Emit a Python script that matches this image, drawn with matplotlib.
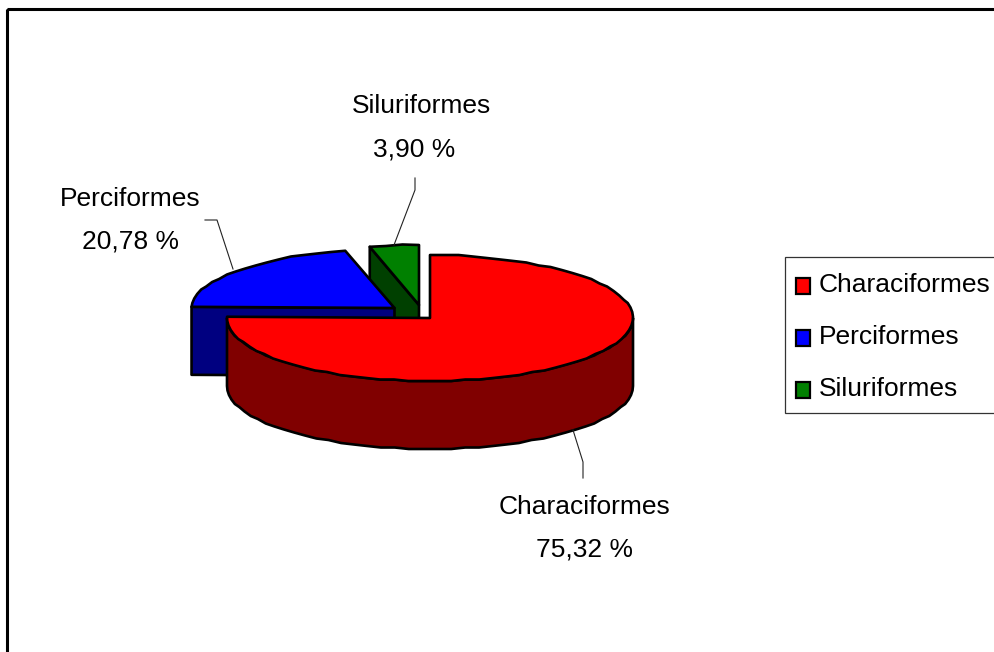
# -*- coding: utf-8 -*-
import numpy as np
import matplotlib
matplotlib.use('Agg')
import matplotlib.pyplot as plt
from matplotlib.patches import Polygon, Rectangle

plt.rcParams['font.family'] = ['Liberation Sans', 'DejaVu Sans']
font_size = 19

orders = ['Characiformes', 'Perciformes', 'Siluriformes']
percent = [75.32, 20.78, 3.90]
percent_text = ['75,32 %', '20,78 %', '3,90 %']

top_colors = ['#ff0000', '#0000ff', '#008000']
side_colors = ['#800000', '#000080', '#004000']

# exploded slice apex in pixels, pie radii and wall height
apex = [(430, 318), (394.5, 308), (419, 305)]
rx = 203
ry = [63, 59, 60]
depth = 68
lw = 1.9

fig = plt.figure(figsize=(9.94, 6.52), dpi=100)
ax = fig.add_axes([0, 0, 1, 1])
ax.set_xlim(0, 994)
ax.set_ylim(652, 0)
ax.axis('off')


def arc(i, a0, a1, step=4.0):
    # rough stepped outline like the old office renderer
    n = max(int(abs(a1 - a0) / step), 1) + 1
    t = np.radians(np.linspace(a0, a1, n))
    x = apex[i][0] + rx * np.cos(t)
    y = apex[i][1] - ry[i] * np.sin(t)
    y[1:-1] = np.round(y[1:-1] / 1.5) * 1.5
    return np.column_stack([x, y])


def add_poly(pts, color, z):
    ax.add_patch(Polygon(pts, closed=True, facecolor=color, edgecolor='black',
                         linewidth=lw, joinstyle='round', zorder=z))


# slice angles, clockwise from 12 o'clock
ends = 90 - np.cumsum(percent) * 3.6
starts = np.concatenate([[90], ends[:-1]])

# green slice, its open side is seen from the 104 deg corner to the apex
c = apex[2]
top = arc(2, starts[2], ends[2])
p_left = top[0]
wall = np.array([p_left, c, (c[0], c[1] + depth), (p_left[0], p_left[1] + depth)])
add_poly(wall, side_colors[2], 2)
add_poly(np.vstack([top, [c]]), top_colors[2], 3)

# blue slice
c = apex[1]
top = arc(1, starts[1], ends[1])
p_left = top[0]
wall = np.array([p_left, c, (c[0], c[1] + depth), (p_left[0], p_left[1] + depth)])
add_poly(wall, side_colors[1], 4)
add_poly(np.vstack([top, [c]]), top_colors[1], 5)

# red slice, wall first then lid
c = apex[0]
top = arc(0, starts[0], ends[0])
low = arc(0, -180, 0)
wall = np.vstack([low, (low + [0, depth])[::-1]])
add_poly(wall, side_colors[0], 6)
add_poly(np.vstack([top, [c]]), top_colors[0], 7)

# leader lines
leaders = [([573, 583, 583], [430, 462, 478]),
           ([205, 217, 233], [220, 220, 269]),
           ([415, 415, 394], [178, 190, 245])]
for xs, ys in leaders:
    ax.plot(xs, ys, color='#222222', linewidth=0.8, zorder=8)

# slice labels
label_pos = [(584, 507, 549), (130, 199, 242), (421, 106, 149)]
for name, txt, (lx, y1, y2), tx in zip(orders, percent_text, label_pos, [585, 130, 414]):
    ax.text(lx, y1, name, fontsize=font_size, ha='center', va='center', color='black')
    ax.text(tx, y2, txt, fontsize=font_size, ha='center', va='center', color='black')

# legend, runs off the right edge of the picture
ax.add_patch(Rectangle((785, 257), 260, 156, facecolor='white', edgecolor='#333333',
                       linewidth=0.9, zorder=9))
for i, (name, col) in enumerate(zip(orders, top_colors)):
    y = 286 + i * 52
    ax.add_patch(Rectangle((796, y - 8), 14, 16, facecolor=col, edgecolor='black',
                           linewidth=1.6, zorder=10))
    ax.text(819, y - 1, name, fontsize=font_size, ha='left', va='center', color='black', zorder=10)

# chart border, also cut off by the picture edge
ax.add_patch(Rectangle((7, 9), 1100, 800, facecolor='none', edgecolor='black',
                       linewidth=2.2, zorder=11))

fig.savefig('out.png', dpi=100)
